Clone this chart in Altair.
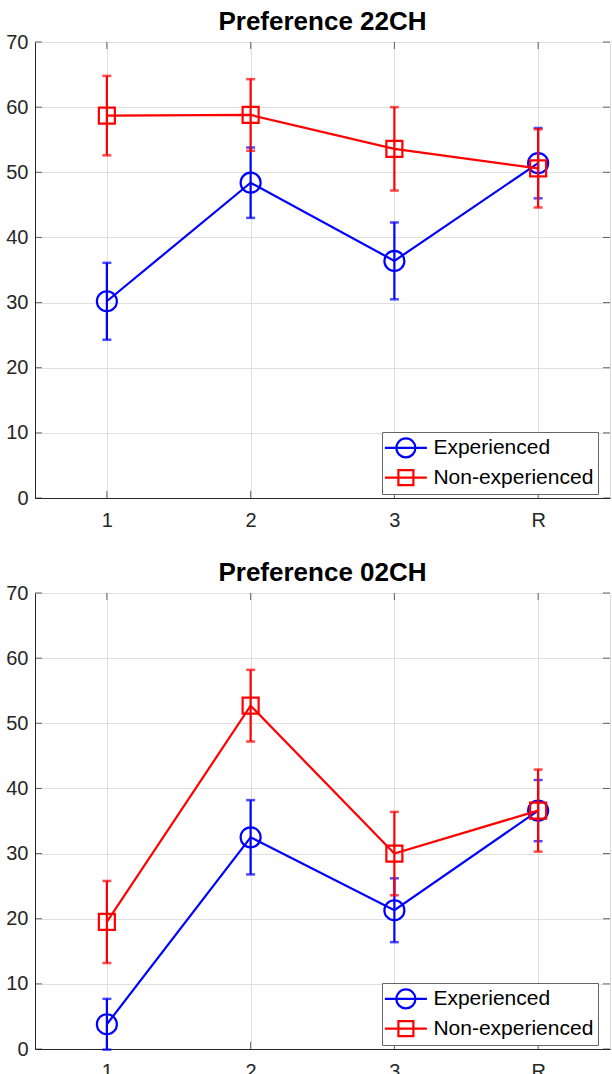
import altair as alt
import pandas as pd

cats = ["1", "2", "3", "R"]
groups = ["Experienced", "Non-experienced"]
colors = ["#0000ff", "#ff0000"]
shapes = ["circle", "square"]
titles = ["Preference 22CH", "Preference 02CH"]
y_ticks = [0, 10, 20, 30, 40, 50, 60, 70]

# Preference 22CH
exp_22_mean = [30.2, 48.4, 36.4, 51.4]
exp_22_err = [5.9, 5.4, 5.9, 5.4]
non_22_mean = [58.7, 58.8, 53.6, 50.6]
non_22_err = [6.1, 5.5, 6.4, 6.0]

# Preference 02CH
exp_02_mean = [3.8, 32.5, 21.3, 36.6]
exp_02_err = [3.9, 5.7, 4.9, 4.7]
non_02_mean = [19.5, 52.7, 30.0, 36.6]
non_02_err = [6.3, 5.5, 6.4, 6.3]

FONT = "Liberation Sans"
AX = "#262626"
W, H = 575, 456

# legend glyphs: line through marker (unit = sqrt(symbolSize)/2 px)
circle_path = "M-2.1,0L2.1,0M0.95,0A0.95,0.95,0,1,1,-0.95,0A0.95,0.95,0,1,1,0.95,0"
square_path = "M-2.1,0L2.1,0M-0.75,-0.75L0.75,-0.75L0.75,0.75L-0.75,0.75Z"


def panel(title, exp_m, exp_e, non_m, non_e):
    rows = []
    for g, m, e in ((groups[0], exp_m, exp_e), (groups[1], non_m, non_e)):
        for c, mv, ev in zip(cats, m, e):
            rows.append({"cond": c, "group": g, "mean": mv, "lo": mv - ev, "hi": mv + ev})
    df = pd.DataFrame(rows)
    base = alt.Chart(df)

    x = alt.X("cond:O", sort=cats, scale=alt.Scale(type="point", padding=0.5),
              axis=alt.Axis(title=None, labelAngle=0, ticks=False, labelPadding=12,
                            grid=True, gridColor="#dfdfdf", domainColor=AX,
                            labelFontSize=20, labelColor=AX, labelFont=FONT))
    yscale = alt.Scale(domain=[0, 70], nice=False, zero=False)
    yaxis = alt.Axis(title=None, values=y_ticks, ticks=False, labelPadding=7,
                     grid=True, gridColor="#dfdfdf", domainColor=AX,
                     labelFontSize=20, labelColor=AX, labelFont=FONT)

    layers = []
    # axis frame ticks (inward)
    tick_df = pd.DataFrame({"cond": cats})
    yt_df = pd.DataFrame({"v": y_ticks})
    layers.append(alt.Chart(tick_df).mark_tick(orient="vertical", size=7, thickness=1, color=AX, yOffset=-3.5)
                  .encode(x=x, y=alt.datum(0, scale=yscale, axis=yaxis)))
    layers.append(alt.Chart(tick_df).mark_tick(orient="vertical", size=7, thickness=1, color=AX, yOffset=3.5)
                  .encode(x=x, y=alt.datum(70)))
    layers.append(alt.Chart(yt_df).mark_tick(orient="horizontal", size=7, thickness=1, color=AX, xOffset=3.5)
                  .encode(x=alt.value(0), y=alt.Y("v:Q")))
    layers.append(alt.Chart(yt_df).mark_tick(orient="horizontal", size=7, thickness=1, color=AX, xOffset=-3.5)
                  .encode(x=alt.value(W), y=alt.Y("v:Q")))

    for g, col, shp in zip(groups, colors, shapes):
        b = base.transform_filter(alt.datum.group == g)
        layers.append(b.mark_rule(strokeWidth=2.2, color=col).encode(x=x, y="lo:Q", y2="hi:Q"))
        layers.append(b.mark_tick(orient="horizontal", size=9, thickness=2.5, color=col).encode(x=x, y="lo:Q"))
        layers.append(b.mark_tick(orient="horizontal", size=9, thickness=2.5, color=col).encode(x=x, y="hi:Q"))
        layers.append(b.mark_line(strokeWidth=2.2, color=col).encode(x=x, y="mean:Q"))
        size = 400 if shp == "circle" else 256
        layers.append(b.mark_point(shape=shp, filled=False, strokeWidth=2.2, size=size, color=col, opacity=1)
                      .encode(x=x, y="mean:Q"))

    leg_kw = dict(title=None, orient="none", legendX=347, legendY=390,
                  symbolSize=400, symbolStrokeWidth=2.2, symbolOpacity=1,
                  symbolFillColor="transparent",
                  labelFontSize=21, labelFont=FONT, labelColor="black",
                  labelExpr="datum.label + '\u2009'",
                  fillColor="white", strokeColor="#666666", padding=4.4,
                  rowPadding=2.8, symbolOffset=8, labelOffset=16)
    leg_df = pd.DataFrame({"group": groups, "cond": ["1", "1"], "mean": [35, 35]})
    layers.append(alt.Chart(leg_df).mark_point(opacity=0, filled=False).encode(
        x=x, y="mean:Q",
        color=alt.Color("group:N", scale=alt.Scale(domain=groups, range=colors), legend=alt.Legend(**leg_kw)),
        shape=alt.Shape("group:N", scale=alt.Scale(domain=groups, range=[circle_path, square_path]),
                        legend=alt.Legend(**leg_kw)),
    ))

    return alt.layer(*layers).properties(
        width=W, height=H,
        title=alt.TitleParams(title, fontSize=26, font=FONT, fontWeight="bold", color="black",
                              anchor="middle", offset=-3),
    )


top = panel(titles[0], exp_22_mean, exp_22_err, non_22_mean, non_22_err)
bottom = panel(titles[1], exp_02_mean, exp_02_err, non_02_mean, non_02_err)

chart = alt.vconcat(top, bottom, spacing=28).resolve_scale(
    color="independent", shape="independent"
).resolve_legend(color="independent", shape="independent").properties(
    padding={"left": 5, "top": 8, "right": 0, "bottom": 0},
).configure_view(stroke=AX, strokeWidth=1).configure(background="white")

chart.save("out.html", embed_options={"renderer": "svg", "actions": False})
